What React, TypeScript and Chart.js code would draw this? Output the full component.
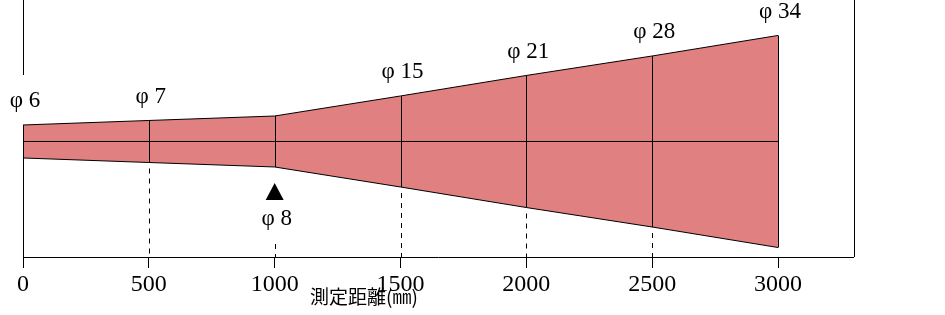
import React, { useEffect, useRef } from "react";
import { Chart, registerables } from "chart.js";

Chart.register(...registerables);

const distances = [0, 500, 1000, 1500, 2000, 2500, 3000];
const halfWidths = [2.66, 3.39, 4.11, 7.34, 10.65, 13.79, 17.1];
const diameterLabels = ["φ 6", "φ 7", "φ 8", "φ 15", "φ 21", "φ 28", "φ 34"];
const xTicks = [0, 500, 1000, 1500, 2000, 2500, 3000];
const dashedAt = [500, 1000, 1500, 2000, 2500];
const labelBelowIndex = 2;
const axisTitle = "測定距離(㎜)";

const FILL = "#E08080";
const SERIF = "'Liberation Serif', 'DejaVu Serif', serif";
const CJK = "'Noto Sans CJK JP', sans-serif";

const overlayPlugin = {
  id: "overlay",
  afterDatasetsDraw(chart: any) {
    const { ctx, chartArea } = chart;
    const xs = chart.scales.x;
    const ys = chart.scales.y;
    const crisp = (v: number) => Math.round(v) + 0.5;
    ctx.save();
    ctx.strokeStyle = "#000";
    ctx.fillStyle = "#000";
    ctx.lineWidth = 1;

    // vertical section lines inside the shape
    distances.forEach((d, i) => {
      const px = crisp(xs.getPixelForValue(d));
      const t = ys.getPixelForValue(halfWidths[i]);
      const b = ys.getPixelForValue(-halfWidths[i]);
      ctx.beginPath();
      ctx.moveTo(px, t);
      ctx.lineTo(px, b);
      ctx.stroke();
    });

    // right frame line
    const rx = crisp(chartArea.right);
    ctx.beginPath();
    ctx.moveTo(rx, chartArea.top);
    ctx.lineTo(rx, chartArea.bottom);
    ctx.stroke();

    // left frame line (broken by the first label)
    const lx = crisp(chartArea.left);
    const t0 = ys.getPixelForValue(halfWidths[0]);
    const b0 = ys.getPixelForValue(-halfWidths[0]);
    ctx.beginPath();
    ctx.moveTo(lx, chartArea.top);
    ctx.lineTo(lx, t0 - 24 - 26);
    ctx.moveTo(lx, b0);
    ctx.lineTo(lx, chartArea.bottom);
    ctx.stroke();

    // dashed guide lines
    ctx.setLineDash([5, 5]);
    dashedAt.forEach((d) => {
      const i = distances.indexOf(d);
      const px = crisp(xs.getPixelForValue(d));
      const b = ys.getPixelForValue(-halfWidths[i]);
      const start = i === labelBelowIndex ? b + 77 : b + 6;
      ctx.beginPath();
      ctx.moveTo(px, start);
      ctx.lineTo(px, chartArea.bottom);
      ctx.stroke();
    });
    ctx.setLineDash([]);

    // diameter labels
    ctx.font = `23px ${SERIF}`;
    ctx.textAlign = "center";
    ctx.textBaseline = "middle";
    distances.forEach((d, i) => {
      const px = xs.getPixelForValue(d);
      if (i === labelBelowIndex) {
        const b = ys.getPixelForValue(-halfWidths[i]);
        ctx.beginPath();
        ctx.moveTo(px, b + 16);
        ctx.lineTo(px - 9, b + 33);
        ctx.lineTo(px + 9, b + 33);
        ctx.closePath();
        ctx.fill();
        ctx.fillText(diameterLabels[i], px + 2, b + 52);
      } else {
        const t = ys.getPixelForValue(halfWidths[i]);
        ctx.fillText(diameterLabels[i], px + 2, t - 24);
      }
    });

    // axis title
    ctx.font = `19px ${CJK}`;
    ctx.textAlign = "left";
    ctx.textBaseline = "middle";
    ctx.fillText(axisTitle, chartArea.left + 287, chartArea.bottom + 40);
    ctx.restore();
  },
};

export default function App() {
  const ref = useRef<HTMLCanvasElement | null>(null);
  useEffect(() => {
    document.body.style.margin = "0";
    const canvas = ref.current;
    if (!canvas) return;
    Chart.defaults.font.family = SERIF;
    const chart = new Chart(canvas, {
      type: "line",
      data: {
        datasets: [
          {
            data: distances.map((d) => ({ x: d, y: 0 })),
            borderColor: "#000",
            borderWidth: 1,
            pointRadius: 0,
            fill: false,
          },
          {
            data: distances.map((d, i) => ({ x: d, y: halfWidths[i] })),
            borderColor: "#000",
            borderWidth: 1,
            pointRadius: 0,
            fill: false,
          },
          {
            data: distances.map((d, i) => ({ x: d, y: -halfWidths[i] })),
            borderColor: "#000",
            borderWidth: 1,
            pointRadius: 0,
            fill: "-1",
            backgroundColor: FILL,
          },
        ],
      },
      options: {
        animation: false,
        responsive: false,
        events: [],
        layout: { padding: { left: 23, right: 91.5, top: 0, bottom: 14.2 } },
        plugins: {
          legend: { display: false },
          tooltip: { enabled: false },
        },
        scales: {
          x: {
            type: "linear",
            min: 0,
            max: 3300,
            afterBuildTicks: (axis: any) => {
              axis.ticks = xTicks.map((v) => ({ value: v }));
            },
            grid: {
              display: true,
              drawOnChartArea: false,
              drawTicks: true,
              tickLength: 11,
              color: "#000",
              lineWidth: 1,
            },
            border: { display: true, color: "#000", width: 1 },
            ticks: {
              color: "#000",
              font: { size: 24, family: SERIF },
              padding: 2,
              maxRotation: 0,
              autoSkip: false,
              callback: (v: any) => String(v),
            },
          },
          y: {
            type: "linear",
            display: false,
            min: -18.63,
            max: 22.82,
          },
        },
      },
      plugins: [overlayPlugin],
    } as any);
    return () => chart.destroy();
  }, []);
  return (
    <div style={{ position: "fixed", left: 0, top: 0, width: 945, height: 315, background: "#fff" }}>
      <canvas ref={ref} width={945} height={315} style={{ display: "block" }} />
    </div>
  );
}
